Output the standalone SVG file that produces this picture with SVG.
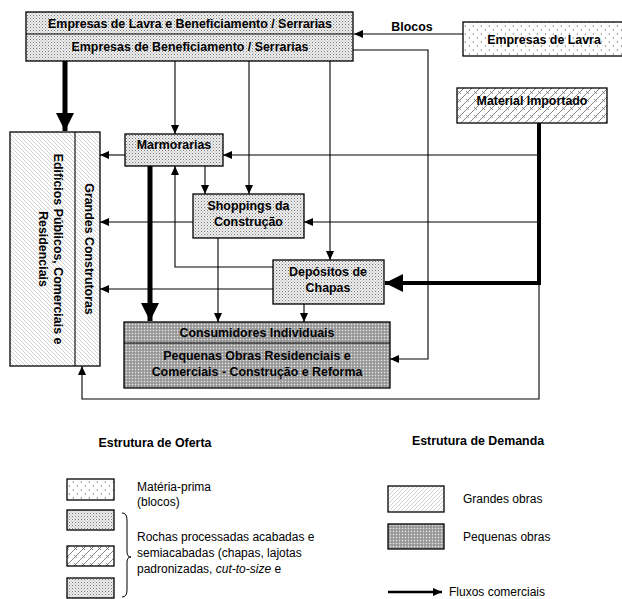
<svg xmlns="http://www.w3.org/2000/svg" width="622" height="599" viewBox="0 0 622 599">
<style>
.box{stroke:#000;stroke-width:1.3}
.b{font-family:"Liberation Sans",Arial,sans-serif;font-weight:bold;font-size:12.4px;fill:#000;text-anchor:middle}
.r{font-family:"Liberation Sans",Arial,sans-serif;font-size:12px;fill:#000}
.c{fill:none;stroke:#000;stroke-width:1.1}
.thick{fill:none;stroke:#000;stroke-width:5}
.med{fill:none;stroke:#000;stroke-width:4}
</style>
<defs>
<pattern id="dots" width="3" height="3" patternUnits="userSpaceOnUse">
<rect width="3" height="3" fill="#eeeeee"/>
<rect x="0" y="0" width="1" height="1" fill="#7a7a7a"/>
<rect x="1.5" y="1.5" width="1" height="1" fill="#a5a5a5"/>
</pattern>
<pattern id="mat" width="8" height="8" patternUnits="userSpaceOnUse">
<rect width="8" height="8" fill="#fff"/>
<path d="M2,1 L0.8,2 L2,3 M6,5 L4.8,6 L6,7" stroke="#888" stroke-width="0.7" fill="none"/>
</pattern>
<pattern id="brick" width="8" height="8" patternUnits="userSpaceOnUse">
<rect width="8" height="8" fill="#fff"/>
<path d="M-1,9 L9,-1 M-1,1 L1,-1 M7,9 L9,7 M2,3 L5,6" stroke="#666" stroke-width="0.8" fill="none"/>
</pattern>
<pattern id="hatchR" width="4" height="4" patternUnits="userSpaceOnUse">
<rect width="4" height="4" fill="#fff"/>
<path d="M-1,-1 L5,5 M-1,3 L1,5 M3,-1 L5,1" stroke="#c4c4c4" stroke-width="0.8"/>
</pattern>
<pattern id="hatchL" width="4" height="4" patternUnits="userSpaceOnUse">
<rect width="4" height="4" fill="#fff"/>
<path d="M-1,5 L5,-1 M-1,1 L1,-1 M3,5 L5,3" stroke="#c4c4c4" stroke-width="0.8"/>
</pattern>
<pattern id="dense" width="3" height="3" patternUnits="userSpaceOnUse">
<rect width="3" height="3" fill="#a8a8a8"/>
<rect x="0" y="0" width="1" height="1" fill="#e8e8e8"/>
<rect x="1.5" y="1.5" width="1" height="1" fill="#666"/>
</pattern>
<marker id="a" markerUnits="userSpaceOnUse" markerWidth="9" markerHeight="8" refX="9" refY="4" orient="auto">
<path d="M0,0 L9,4 L0,8 z" fill="#000"/>
</marker>
<marker id="A" markerUnits="userSpaceOnUse" markerWidth="18" markerHeight="18" refX="18" refY="9" orient="auto">
<path d="M0,0 L18,9 L0,18 z" fill="#000"/>
</marker>
</defs>
<rect width="622" height="599" fill="#fff"/>

<g id="connectors">
<path class="c" d="M463,34 H354" marker-end="url(#a)"/>
<path class="thick" d="M65,61 V131" marker-end="url(#A)"/>
<path class="c" d="M175,61 V134" marker-end="url(#a)"/>
<path class="c" d="M249,61 V194" marker-end="url(#a)"/>
<path class="c" d="M330,61 V260" marker-end="url(#a)"/>
<path class="c" d="M353,50 H428 V359 H390" marker-end="url(#a)"/>
<path class="c" d="M539,155 H223" marker-end="url(#a)"/>
<path class="c" d="M125,155 H100" marker-end="url(#a)"/>
<path class="c" d="M539,222 H304" marker-end="url(#a)"/>
<path class="c" d="M193,222 H100" marker-end="url(#a)"/>
<path class="c" d="M205,166 V194" marker-end="url(#a)"/>
<path class="c" d="M273,267 H175 V166" marker-end="url(#a)"/>
<path class="c" d="M218,238 V322" marker-end="url(#a)"/>
<path class="c" d="M273,289 H100" marker-end="url(#a)"/>
<path class="c" d="M304,304 V322" marker-end="url(#a)"/>
<path class="c" d="M539,283 V399 H82 V366" stroke="#444" marker-end="url(#a)"/>
<path class="thick" d="M150,166 V321" stroke-width="6" marker-end="url(#A)"/>
<path class="med" d="M539,123 V283 H385" marker-end="url(#A)"/>
</g>

<g id="top">
<rect class="box" x="26" y="12" width="327" height="49" fill="url(#dots)"/>
<line x1="26" y1="34" x2="353" y2="34" stroke="#000" stroke-width="1.1"/>
<text class="b" x="190" y="28">Empresas de Lavra e Beneficiamento / Serrarias</text>
<text class="b" x="190" y="51">Empresas de Beneficiamento / Serrarias</text>
</g>
<text class="b" x="412" y="31">Blocos</text>

<g id="lavra">
<rect class="box" x="463" y="22" width="170" height="34" fill="url(#mat)"/>
<text class="b" x="544" y="44">Empresas de Lavra</text>
</g>

<g id="importado">
<rect class="box" x="457" y="88" width="150" height="35" fill="url(#brick)"/>
<text class="b" x="532" y="105">Material Importado</text>
</g>

<g id="construtoras">
<rect class="box" x="10" y="132" width="90" height="234" fill="url(#hatchR)"/>
<line x1="75" y1="132" x2="75" y2="366" stroke="#000" stroke-width="1.1"/>
<text class="b" transform="translate(85,249) rotate(90)" x="0" y="0">Grandes Construtoras</text>
<text class="b" transform="translate(54,249) rotate(90)" x="0" y="0">Edifícios Públicos, Comerciais e</text>
<text class="b" transform="translate(39,249) rotate(90)" x="0" y="0">Residenciais</text>
</g>

<g id="marmorarias">
<rect class="box" x="125" y="134" width="98" height="32" fill="url(#dots)"/>
<text class="b" x="174" y="149">Marmorarias</text>
</g>

<g id="shoppings">
<rect class="box" x="193" y="194" width="111" height="44" fill="url(#dots)"/>
<text class="b" x="248.5" y="210">Shoppings da</text>
<text class="b" x="248.5" y="226">Construção</text>
</g>

<g id="depositos">
<rect class="box" x="273" y="260" width="111" height="44" fill="url(#dots)"/>
<text class="b" x="328" y="276">Depósitos de</text>
<text class="b" x="328" y="292">Chapas</text>
</g>

<g id="consumidores">
<rect class="box" x="124" y="322" width="266" height="66" fill="url(#dense)"/>
<line x1="124" y1="343" x2="390" y2="343" stroke="#000" stroke-width="1.1"/>
<text class="b" x="257" y="337">Consumidores Individuais</text>
<text class="b" x="257" y="360">Pequenas Obras Residenciais e</text>
<text class="b" x="257" y="376">Comerciais - Construção e Reforma</text>
</g>

<g id="legend">
<text class="b" x="155" y="447">Estrutura de Oferta</text>
<rect class="box" x="67" y="479" width="47" height="21" fill="url(#mat)"/>
<rect class="box" x="67" y="510" width="47" height="20" fill="url(#dots)"/>
<rect class="box" x="67" y="546" width="47" height="20" fill="url(#brick)"/>
<rect class="box" x="67" y="578" width="47" height="20" fill="url(#dots)"/>
<text class="r" x="137" y="491">Matéria-prima</text>
<text class="r" x="137" y="506">(blocos)</text>
<path d="M122,513 Q127,513 127,520 V552 Q127,557 131,557 Q127,557 127,562 V590 Q127,597 122,597" fill="none" stroke="#000" stroke-width="1"/>
<text class="r" x="137" y="541">Rochas processadas acabadas e</text>
<text class="r" x="137" y="557">semiacabadas (chapas, lajotas</text>
<text class="r" x="137" y="573">padronizadas, <tspan font-style="italic">cut-to-size</tspan> e</text>

<text class="b" x="478" y="445">Estrutura de Demanda</text>
<rect class="box" x="388" y="486" width="56" height="26" fill="url(#hatchL)"/>
<rect class="box" x="388" y="524" width="56" height="25" fill="url(#dense)"/>
<text class="r" x="463" y="503">Grandes obras</text>
<text class="r" x="463" y="541">Pequenas obras</text>
<path d="M388,592 H442" stroke="#000" stroke-width="2.5" marker-end="url(#a)"/>
<text class="r" x="449" y="596">Fluxos comerciais</text>
</g>
</svg>
